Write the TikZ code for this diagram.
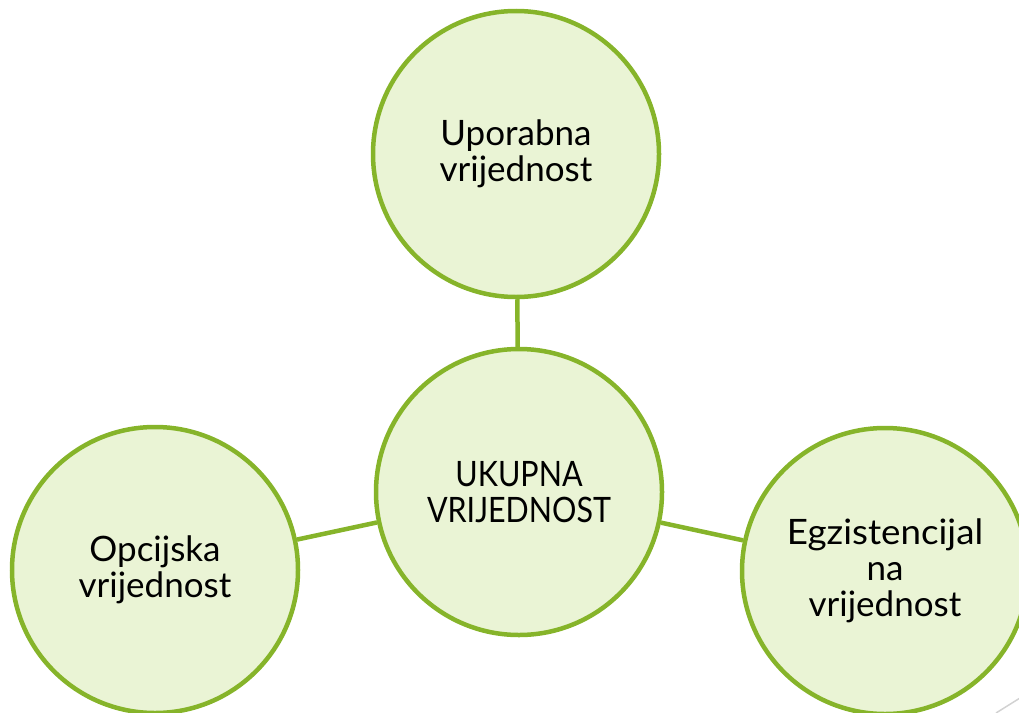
\documentclass[tikz,border=0pt]{standalone}
\usepackage{fontspec}
\setmainfont{Lato}
\definecolor{ringgreen}{RGB}{134,180,42}
\definecolor{fillgreen}{RGB}{234,244,213}
\definecolor{slidegray}{RGB}{210,210,210}
\begin{document}
\begin{tikzpicture}[x=1pt,y=-1pt,
  bubble/.style={circle,draw=ringgreen,fill=fillgreen,line width=4.5pt,minimum size=286pt,inner sep=0pt,align=center,font=\fontsize{35}{36}\selectfont,text=black},
  link/.style={draw=ringgreen,line width=4.5pt}]
\useasboundingbox (0,0) rectangle (1019,712);
\clip (0,0) rectangle (1019,712);
\node[bubble] (top) at (516,154) {Uporabna\\vrijednost};
\node[bubble] (mid) at (519,492) {\scalebox{0.87}[1]{UKUPNA}\\\scalebox{0.87}[1]{VRIJEDNOST}};
\node[bubble] (left) at (155,570) {Opcijska\\vrijednost};
\node[bubble] (right) at (885,571) {\scalebox{1.05}[1]{Egzistencijal}\\na\\vrijednost};
\draw[link] (top) -- (mid);
\draw[link] (left) -- (mid);
\draw[link] (mid) -- (right);
\coordinate (g1) at (996,713);
\coordinate (g2) at (1020,698);
\draw[slidegray,line width=1.5pt] (g1) -- (g2);
\end{tikzpicture}
\end{document}
